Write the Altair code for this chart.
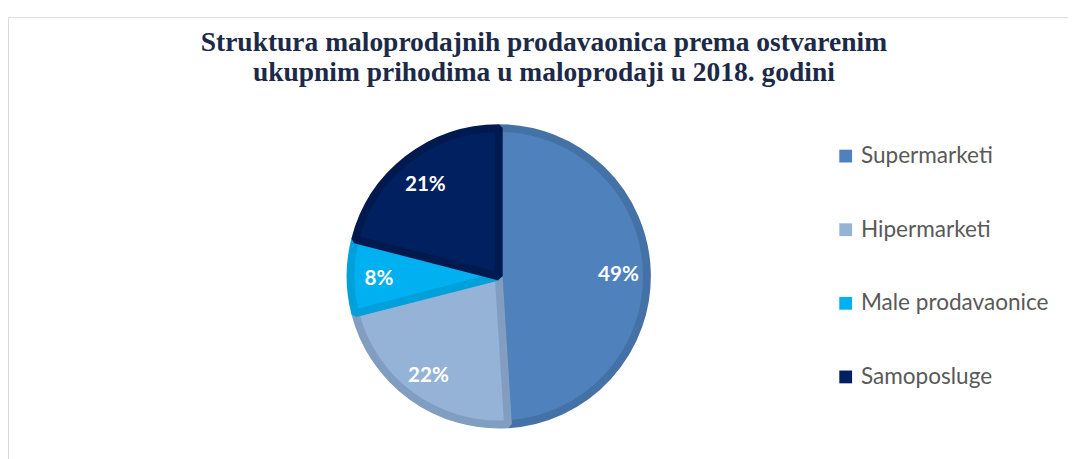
import altair as alt
import pandas as pd

categories = ["Supermarketi", "Hipermarketi", "Male prodavaonice", "Samoposluge"]
values = [49, 22, 8, 21]
fill_colors = ["#4F81BD", "#95B3D7", "#00B0F0", "#002060"]
stroke_colors = ["#4472A6", "#819DBF", "#00A0DA", "#001A50"]
title_lines = ["Struktura maloprodajnih prodavaonica prema ostvarenim",
               "ukupnim prihodima u maloprodaji u 2018. godini"]

df = pd.DataFrame({
    "cat": categories,
    "value": values,
    "order": list(range(len(categories))),
    "label": [f"{v}%" for v in values],
})

base = alt.Chart(df).encode(
    theta=alt.Theta("value:Q", stack=True),
    order=alt.Order("order:Q", sort="ascending"),
)

pie = base.mark_arc(outerRadius=151, strokeWidth=8, strokeJoin="bevel").encode(
    x=alt.value(500),
    y=alt.value(264),
    color=alt.Color(
        "cat:N",
        scale=alt.Scale(domain=categories, range=fill_colors),
        sort=categories,
        legend=alt.Legend(
            title=None,
            orient="none",
            legendX=842,
            legendY=130,
            symbolType="square",
            symbolSize=170,
            symbolStrokeWidth=0,
            labelFont="Lato",
            labelFontSize=23,
            labelColor="#595959",
            labelLimit=400,
            rowPadding=51,
            padding=0,
            labelOffset=4,
        ),
    ),
    stroke=alt.Stroke(
        "cat:N",
        scale=alt.Scale(domain=categories, range=stroke_colors),
        legend=None,
    ),
)

labels = base.mark_text(
    radius=122, font="Lato", fontSize=21, fontWeight="bold", color="white", dy=3
).encode(
    x=alt.value(500),
    y=alt.value(264),
    text="label:N",
)

chart = alt.layer(pie, labels).properties(
    width=1080,
    height=460,
    autosize=alt.AutoSizeParams(type="none"),
    padding={"left": 0, "top": 5, "right": 0, "bottom": 0},
    title=alt.TitleParams(
        text=title_lines,
        font="Liberation Serif",
        fontSize=28,
        fontWeight="bold",
        color="#1C2A48",
        anchor="middle",
        offset=-71,
        lineHeight=31,
        dx=6,
    ),
).configure_view(stroke="#D9D9D9", strokeWidth=1)

chart.save("out.html", embed_options={"renderer": "svg", "actions": False})
